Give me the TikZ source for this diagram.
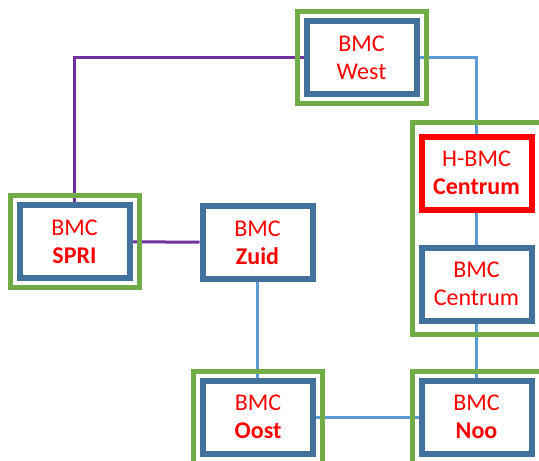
\documentclass[tikz,border=0pt]{standalone}
\usepackage{fontspec}
\setmainfont{Carlito}
\usetikzlibrary{positioning,fit,backgrounds}
\definecolor{bmcblue}{RGB}{65,113,156}
\definecolor{frgreen}{RGB}{112,173,71}
\definecolor{linkblue}{RGB}{91,155,213}
\definecolor{linkpurple}{RGB}{112,48,160}

\begin{document}
\begin{tikzpicture}[x=1pt,y=-1pt,
  bmc/.style={draw=bmcblue,line width=6pt,fill=white,minimum width=110pt,minimum height=73pt,
    align=center,text=red,font=\fontsize{24}{28}\selectfont},
  hbmc/.style={bmc,draw=red},
  greenframe/.style={draw=frgreen,line width=5pt,inner sep=6.5pt},
  bluelink/.style={draw=linkblue,line width=3pt},
  purplelink/.style={draw=linkpurple,line width=3pt}]
\useasboundingbox (0,0) rectangle (539,461);

\node[bmc] (west) at (361.5,57.5) {BMC\\West};
\node[bmc] (spri) at (74.5,241.5) {BMC\\\textbf{SPRI}};
\node[bmc] (zuid) at (257.5,242.5) {BMC\\\textbf{Zuid}};
\node[hbmc] (hbmc) at (476.5,173) {H-BMC\\\textbf{Centrum}};
\node[bmc] (centrum) at (476.5,284) {BMC\\Centrum};
\node[bmc] (oost) at (258,417) {BMC\\\textbf{Oost}};
\node[bmc] (noo) at (476.5,417) {BMC\\\textbf{Noo}};

\node[greenframe,fit=(west)] (westfr) {};
\node[greenframe,fit=(spri)] (sprifr) {};
\node[greenframe,fit=(oost)] (oostfr) {};
\node[greenframe,fit=(noo)] (noofr) {};
\node[greenframe,inner ysep=11pt,fit=(hbmc)(centrum)] (centrumfr) {};

\begin{scope}[on background layer]
\draw[purplelink] (west.west) -| (spri.north);
\draw[purplelink] (spri) -- (zuid);
\draw[bluelink] (west.east) -| (hbmc.north);
\draw[bluelink] (hbmc) -- (centrum);
\draw[bluelink] (centrum) -- (noo);
\draw[bluelink] (zuid.south) -- (zuid.south |- oost.north);
\draw[bluelink] (oost) -- (noo);
\end{scope}
\end{tikzpicture}
\end{document}
